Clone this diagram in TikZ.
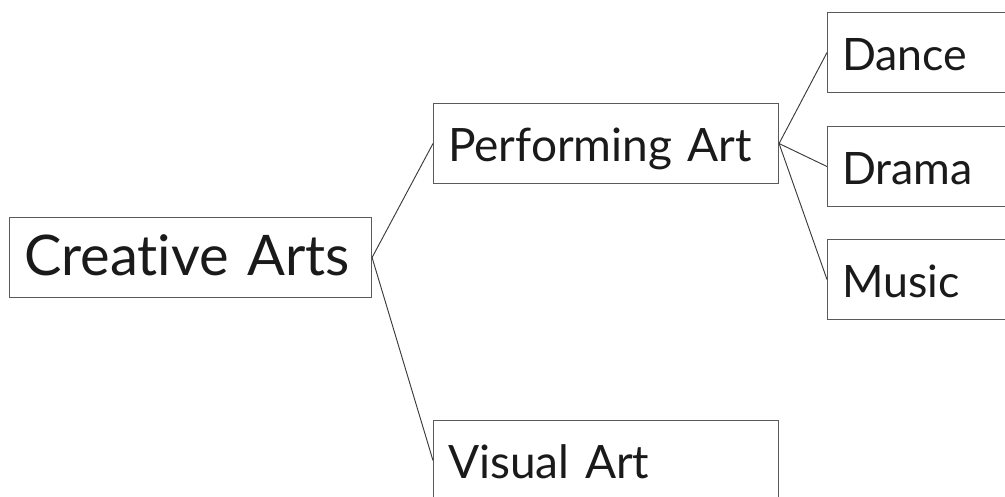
\documentclass[tikz,border=0pt]{standalone}
\usepackage{fontspec}
\setmainfont{Lato}[Ligatures=NoCommon]
\definecolor{boxline}{HTML}{5A5A5A}
\definecolor{linkline}{HTML}{3A3A3A}
\definecolor{ink}{HTML}{1A1A1A}
\begin{document}
\begin{tikzpicture}[x=0.75pt,y=-0.75pt,
  box/.style={draw=boxline, line width=0.8pt, anchor=north west,
    minimum height=60pt, inner ysep=0pt, inner xsep=11pt,
    text height=27pt, text depth=0pt, align=left, text=ink},
  bigbox/.style={box, text width=249.5pt, font=\fontsize{42}{42}\selectfont},
  midbox/.style={box, text width=236.75pt, font=\fontsize{34.5}{34.5}\selectfont},
  smallbox/.style={box, text width=128pt, font=\fontsize{33.5}{33.5}\selectfont},
  link/.style={draw=linkline, line width=0.7pt}]
  \useasboundingbox (0,0) rectangle (1005,496);
  \clip (0,0) rectangle (1005,496);

  % root, second level, leaves
  \node[bigbox]   (creative)   at (9,217)   {\mbox{Creative Arts}};
  \node[midbox]   (performing) at (433,103) {\mbox{Performing Art}};
  \node[midbox]   (visual)     at (433,420) {\mbox{Visual Art}};
  \node[smallbox] (dance)      at (827,12)  {Dance};
  \node[smallbox] (drama)      at (827,126) {Drama};
  \node[smallbox] (music)      at (827,239) {Music};

  % tree links
  \draw[link] (creative.east) -- (performing.west);
  \draw[link] (creative.east) -- (visual.west);
  \draw[link] (performing.east) -- (dance.west);
  \draw[link] (performing.east) -- (drama.west);
  \draw[link] (performing.east) -- (music.west);
\end{tikzpicture}
\end{document}
